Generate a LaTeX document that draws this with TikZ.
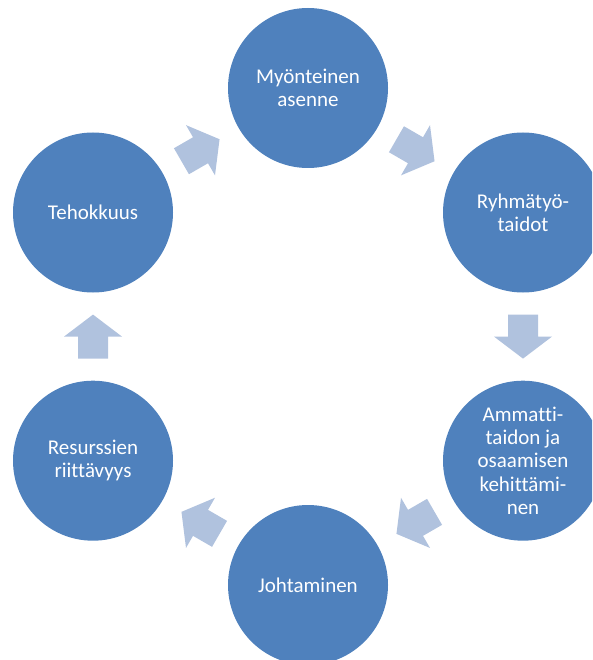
\documentclass[tikz,border=0pt]{standalone}
\usepackage{fontspec}
\setmainfont{Carlito}[Ligatures=NoCommon]
\usetikzlibrary{calc}
\definecolor{circblue}{RGB}{79,129,189}
\definecolor{arrowblue}{RGB}{176,194,222}

\begin{document}
\begin{tikzpicture}[x=1pt,y=1pt,
  topic/.style={circle, fill=circblue, minimum size=160pt, inner sep=0pt,
    text=white, align=center, font=\fontsize{21}{23.4}\selectfont},
  cyclearrow/.pic={\fill[arrowblue] (-22,-15) -- (0,-15) -- (0,-29) -- (22,0)
    -- (0,29) -- (0,15) -- (-22,15) -- cycle;}]
\useasboundingbox (0,0) rectangle (592,-660);
\clip (0,0) rectangle (592,-660);
% the six circles
\node[topic] (myont) at (308,-88) {Myönteinen\\asenne};
\node[topic] (ryhma) at (523,-212.5) {Ryhmätyö-\\taidot};
\node[topic] (ammat) at (523,-460.7) {Ammatti-\\taidon ja\\osaamisen\\kehittämi-\\nen};
\node[topic] (johto) at (308,-585) {Johtaminen};
\node[topic] (resur) at (93,-460.7) {Resurssien\\riittävyys};
\node[topic] (teho) at (93,-212.5) {Tehokkuus};
% arrows between them
\pic[rotate=30] at ($(teho)!.5!(myont)$) {cyclearrow};
\pic[rotate=-30] at ($(myont)!.5!(ryhma)$) {cyclearrow};
\pic[rotate=-90] at ($(ryhma)!.5!(ammat)$) {cyclearrow};
\pic[rotate=-150] at ($(ammat)!.5!(johto)$) {cyclearrow};
\pic[rotate=150] at ($(johto)!.5!(resur)$) {cyclearrow};
\pic[rotate=90] at ($(resur)!.5!(teho)$) {cyclearrow};
\end{tikzpicture}
\end{document}
